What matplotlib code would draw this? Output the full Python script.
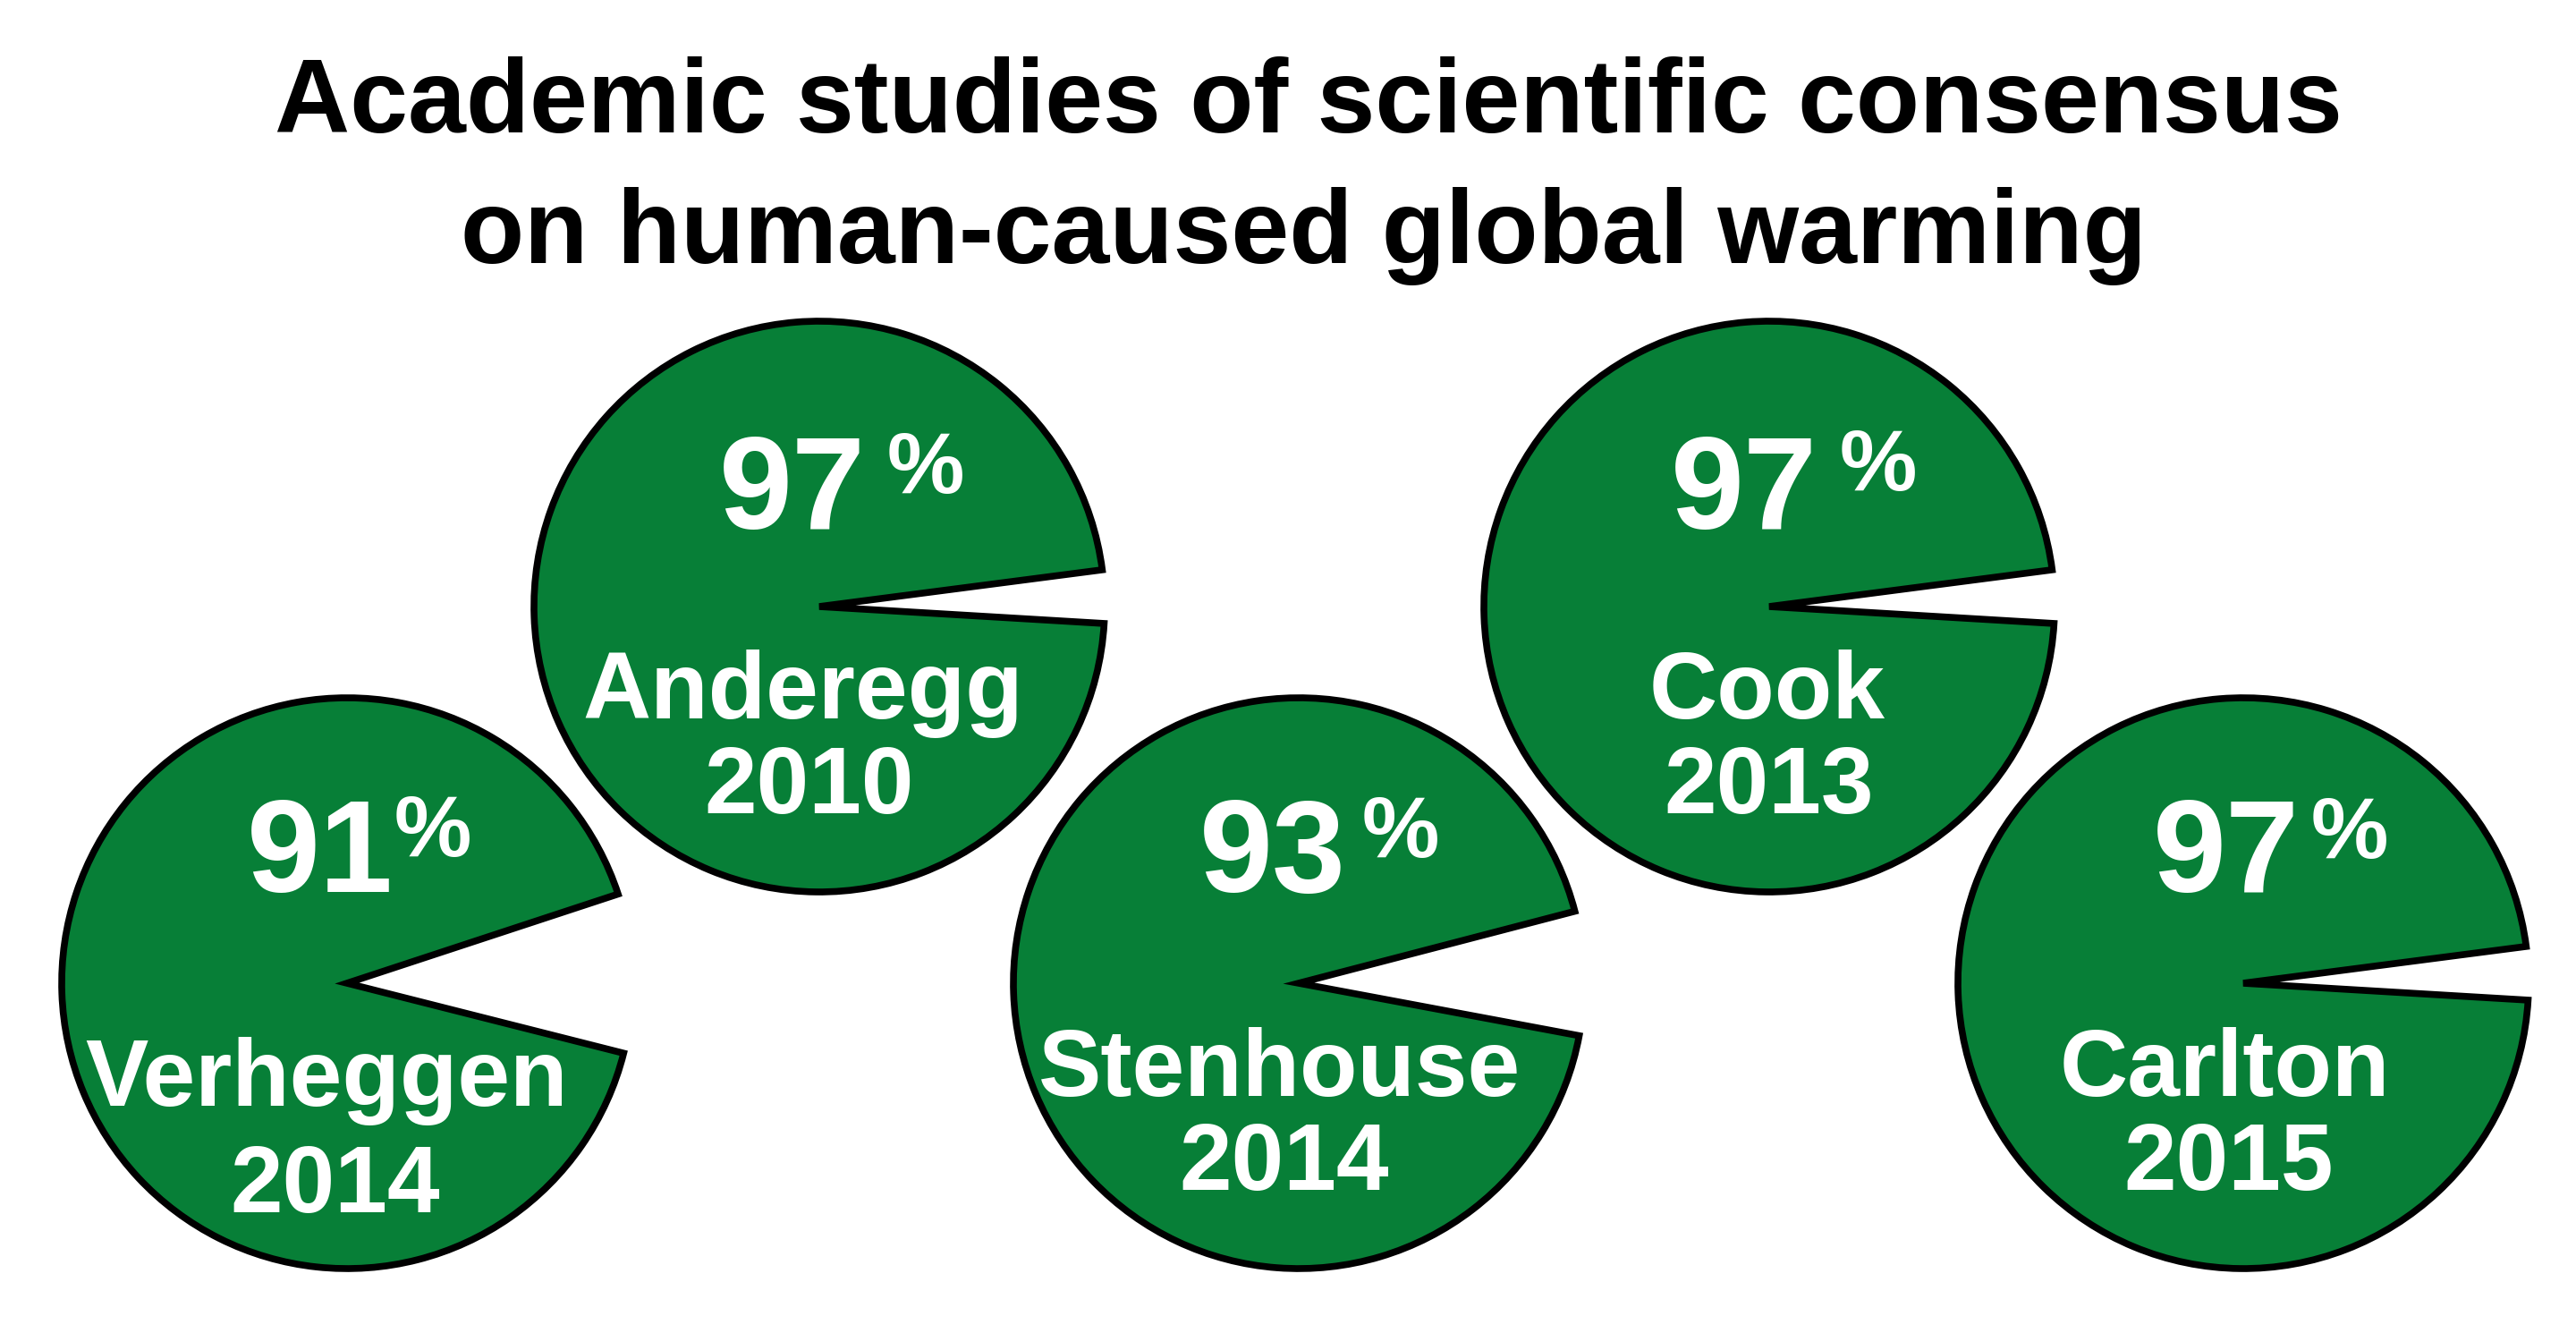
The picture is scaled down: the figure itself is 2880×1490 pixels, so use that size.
import matplotlib
matplotlib.use('Agg')
import matplotlib.pyplot as plt
from matplotlib.patches import Wedge

plt.rcParams['font.family'] = ['Liberation Sans', 'DejaVu Sans']

# data
authors = ['Verheggen', 'Anderegg', 'Stenhouse', 'Cook', 'Carlton']
years = ['2014', '2010', '2014', '2013', '2015']
consensus = [91, 97, 93, 97, 97]
pct_labels = ['91', '97', '93', '97', '97']

title_lines = ['Academic studies of scientific consensus',
               'on human-caused global warming']

# layout (pixel coords, y down)
centers = [(388, 1099), (916, 678), (1452, 1099), (1978, 678), (2508, 1099)]
radius = 319
green = '#077f37'
# label offsets from the pie centre: (dx, dy baseline)
num_off = [(-30, -102), (-30, -87), (-29, -102), (-28, -87), (-19, -102)]
sign_off = [(53, -142), (76, -127), (71, -141), (79, -130), (76, -140)]
name_off = [(-23, 137), (-18, 125), (-21, 126), (-2, 125), (-21, 126)]
year_off = [(-13, 256), (-11, 231), (-16, 231), (0, 231), (-16, 231)]

fig = plt.figure(figsize=(28.8, 14.9), dpi=100)
ax = fig.add_axes([0, 0, 1, 1])
ax.set_xlim(0, 2880)
ax.set_ylim(1490, 0)
ax.axis('off')

for i in range(len(authors)):
    cx, cy = centers[i]
    gap = (100 - consensus[i]) / 100 * 360
    tilt = -2  # gap slightly above horizontal
    w = Wedge((cx, cy), radius, tilt + gap / 2, tilt + 360 - gap / 2,
              facecolor=green, edgecolor='black', linewidth=5.5, joinstyle='miter')
    ax.add_patch(w)

    ax.text(cx + num_off[i][0], cy + num_off[i][1], pct_labels[i],
            ha='center', va='baseline', fontsize=106, fontweight='bold', color='white')
    ax.text(cx + sign_off[i][0], cy + sign_off[i][1], '%',
            ha='left', va='baseline', fontsize=70, fontweight='bold', color='white')
    ax.text(cx + name_off[i][0], cy + name_off[i][1], authors[i],
            ha='center', va='baseline', fontsize=76, fontweight='bold', color='white')
    ax.text(cx + year_off[i][0], cy + year_off[i][1], years[i],
            ha='center', va='baseline', fontsize=76, fontweight='bold', color='white')

ax.text(1463, 148, title_lines[0], ha='center', va='baseline',
        fontsize=84, fontweight='bold', color='black')
ax.text(1457, 294, title_lines[1], ha='center', va='baseline',
        fontsize=84, fontweight='bold', color='black')

fig.savefig('out.png', dpi=100, facecolor='white')
